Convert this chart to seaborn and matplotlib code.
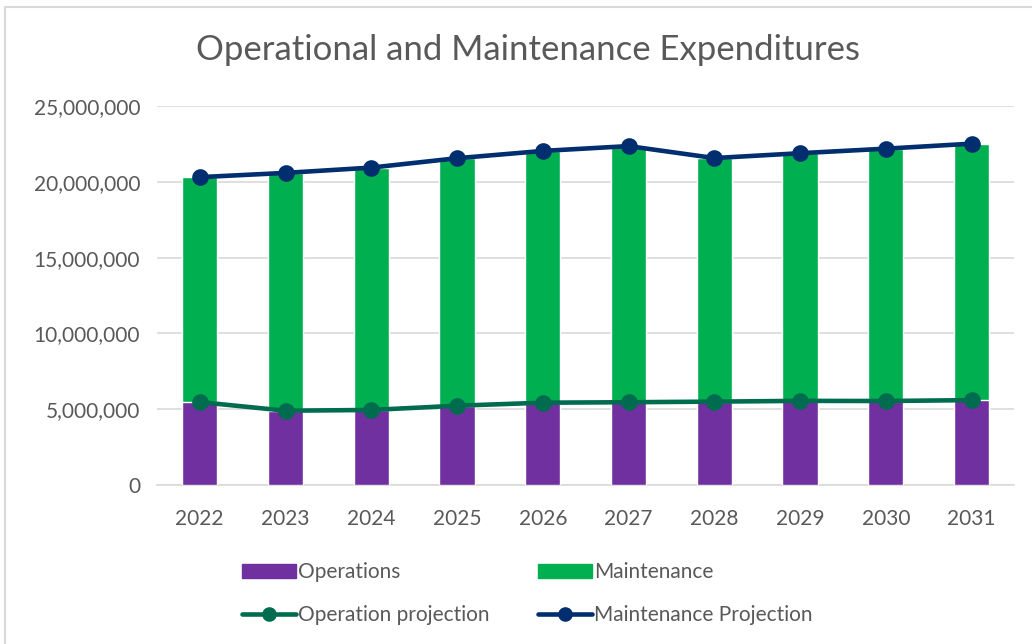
import matplotlib
matplotlib.use("Agg")
import matplotlib.pyplot as plt
import matplotlib.ticker as mticker
from matplotlib.patches import Rectangle
from matplotlib.lines import Line2D
import seaborn as sns

# Dados
anos = ["2022", "2023", "2024", "2025", "2026", "2027", "2028", "2029", "2030", "2031"]
operacoes = [5.47e6, 4.90e6, 4.95e6, 5.23e6, 5.43e6, 5.46e6, 5.50e6, 5.55e6, 5.54e6, 5.60e6]
total = [20.32e6, 20.60e6, 20.95e6, 21.57e6, 22.05e6, 22.37e6, 21.58e6, 21.90e6, 22.20e6, 22.53e6]
manutencao = [t - o for t, o in zip(total, operacoes)]

roxo = "#7030A0"
verde = "#00B050"
verde_linha = "#006C4F"
azul = "#002E6E"
cinza = "#595959"

sns.set_style("white")
plt.rcParams["font.family"] = ["Lato", "DejaVu Sans"]

fig = plt.figure(figsize=(10.32, 6.44), dpi=100)
ax = fig.add_axes([0.152, 0.247, 0.831, 0.588])

# Barras empilhadas: total (verde) e operações (roxo) por cima
sns.barplot(x=anos, y=total, color=verde, saturation=1, width=0.41, ax=ax, zorder=2)
sns.barplot(x=anos, y=operacoes, color=roxo, saturation=1, width=0.41, ax=ax, zorder=3)

# Linhas de projeção
sns.pointplot(x=anos, y=operacoes, color=verde_linha, errorbar=None, ax=ax,
              linewidth=3.3, markersize=9.5, zorder=4)
sns.pointplot(x=anos, y=total, color=azul, errorbar=None, ax=ax,
              linewidth=3.3, markersize=9.5, zorder=5)

ax.set_ylim(0, 25e6)
ax.set_xlim(-0.5, 9.5)
ax.yaxis.set_major_locator(mticker.MultipleLocator(5e6))
ax.yaxis.set_major_formatter(mticker.FuncFormatter(lambda v, p: f"{v:,.0f}"))
ax.grid(axis="y", color="#D9D9D9", linewidth=1.2, zorder=0)
ax.set_axisbelow(True)
for lado in ["left", "right", "top"]:
    ax.spines[lado].set_visible(False)
ax.spines["bottom"].set_color("#D9D9D9")
ax.spines["bottom"].set_linewidth(1.2)
ax.tick_params(axis="y", length=0, labelsize=15, labelcolor=cinza, pad=12)
ax.tick_params(axis="x", length=0, labelsize=15, labelcolor=cinza, pad=17)
ax.set_xlabel("")
ax.set_ylabel("")

fig.text(0.512, 0.922, "Operational and Maintenance Expenditures",
         ha="center", va="center", fontsize=25, color=cinza)

# Legenda (2 linhas x 2 colunas)
h_op = Rectangle((0, 0), 1, 1, color=roxo)
h_man = Rectangle((0, 0), 1, 1, color=verde)
h_lop = Line2D([], [], color=verde_linha, linewidth=3.3, marker="o", markersize=9.5)
h_lman = Line2D([], [], color=azul, linewidth=3.3, marker="o", markersize=9.5)
leg = fig.legend([h_op, h_lop, h_man, h_lman],
                 ["Operations", "Operation projection", "Maintenance", "Maintenance Projection"],
                 ncol=2, loc="center", bbox_to_anchor=(0.511, 0.078), frameon=False,
                 fontsize=15, handlelength=2.6, handleheight=0.7, handletextpad=0.1,
                 columnspacing=2.3, labelspacing=1.1, labelcolor=cinza)

# Moldura do gráfico
fig.add_artist(Rectangle((5 / 1032, -0.01), 1.1, 1 - 7 / 644 + 0.01, transform=fig.transFigure,
                         fill=False, edgecolor="#D9D9D9", linewidth=1.5))

fig.savefig("out.png", dpi=100)
